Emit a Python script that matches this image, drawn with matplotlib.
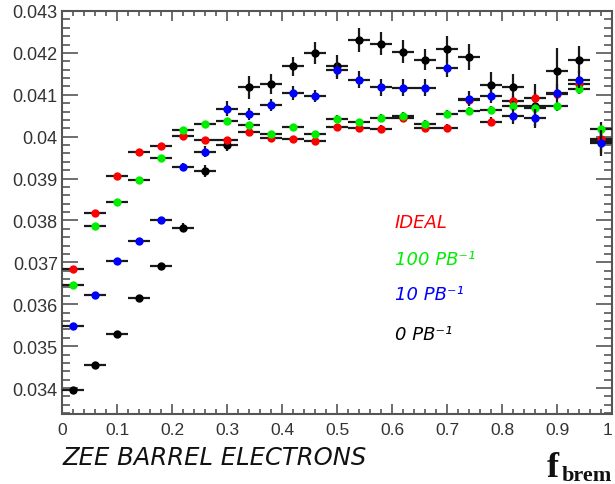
import matplotlib
matplotlib.use("Agg")
import matplotlib.pyplot as plt
from matplotlib.ticker import MultipleLocator, FormatStrFormatter

# ---- data -------------------------------------------------------------
fbrem = [0.02, 0.06, 0.10, 0.14, 0.18, 0.22, 0.26, 0.30, 0.34, 0.38,
         0.42, 0.46, 0.50, 0.54, 0.58, 0.62, 0.66, 0.70, 0.74, 0.78,
         0.82, 0.86, 0.90, 0.94, 0.98]
bin_half_width = 0.02

zero_pb = [0.03396, 0.03454, 0.03529, 0.03616, 0.03691, 0.03783, 0.03918,
           0.03981, 0.04118, 0.04126, 0.04168, 0.04199, 0.04168, 0.04231,
           0.04222, 0.04203, 0.04184, 0.04209, 0.04191, 0.04124, 0.04119,
           0.04073, 0.04157, 0.04184, 0.03989]
zero_pb_err = [0.00005, 0.00005, 0.00005, 0.00006, 0.00007, 0.00010, 0.00014,
               0.00016, 0.00027, 0.00024, 0.00023, 0.00026, 0.00026, 0.00028,
               0.00027, 0.00027, 0.00025, 0.00031, 0.00031, 0.00030, 0.00030,
               0.00053, 0.00055, 0.00032, 0.00028]

ten_pb = [0.03549, 0.03623, 0.03704, 0.03750, 0.03800, 0.03928, 0.03964,
          0.04067, 0.04054, 0.04076, 0.04104, 0.04097, 0.04158, 0.04136,
          0.04118, 0.04117, 0.04117, 0.04163, 0.04091, 0.04097, 0.04049,
          0.04045, 0.04105, 0.04136, 0.03985]
ten_pb_err = [0.00004, 0.00004, 0.00004, 0.00005, 0.00005, 0.00008, 0.00013,
              0.00017, 0.00015, 0.00014, 0.00016, 0.00015, 0.00020, 0.00020,
              0.00020, 0.00020, 0.00020, 0.00020, 0.00018, 0.00016, 0.00018,
              0.00020, 0.00020, 0.00020, 0.00030]

hundred_pb = [0.03647, 0.03786, 0.03845, 0.03897, 0.03950, 0.04017, 0.04031,
              0.04038, 0.04028, 0.04006, 0.04024, 0.04007, 0.04043, 0.04035,
              0.04045, 0.04049, 0.04030, 0.04054, 0.04062, 0.04064, 0.04074,
              0.04068, 0.04074, 0.04114, 0.04019]
hundred_pb_err = [0.00003, 0.00003, 0.00003, 0.00004, 0.00004, 0.00005, 0.00005,
                  0.00006, 0.00006, 0.00006, 0.00007, 0.00007, 0.00008, 0.00008,
                  0.00008, 0.00009, 0.00009, 0.00010, 0.00010, 0.00010, 0.00011,
                  0.00012, 0.00012, 0.00013, 0.00015]

ideal = [0.03683, 0.03819, 0.03906, 0.03964, 0.03978, 0.04002, 0.03993,
         0.03993, 0.04011, 0.03998, 0.03995, 0.03989, 0.04023, 0.04020,
         0.04019, 0.04045, 0.04021, 0.04021, 0.04088, 0.04036, 0.04085,
         0.04092, 0.04103, 0.04126, 0.03995]
ideal_err = [0.00003, 0.00004, 0.00004, 0.00004, 0.00004, 0.00005, 0.00005,
             0.00006, 0.00006, 0.00006, 0.00007, 0.00007, 0.00008, 0.00008,
             0.00008, 0.00009, 0.00009, 0.00010, 0.00010, 0.00010, 0.00011,
             0.00012, 0.00012, 0.00013, 0.00015]

series = [  # (values, errors, colour, legend text)
    (zero_pb, zero_pb_err, "#000000", "0 PB\u207b\u00b9"),
    (ideal, ideal_err, "#ff0000", "IDEAL"),
    (hundred_pb, hundred_pb_err, "#00ee00", "100 PB\u207b\u00b9"),
    (ten_pb, ten_pb_err, "#0000ff", "10 PB\u207b\u00b9"),
]

# ---- figure -----------------------------------------------------------
fig = plt.figure(figsize=(6.15, 4.85), dpi=100)
ax = fig.add_axes([62 / 615, 70 / 485, 550 / 615, 403 / 485])

for z, (vals, errs, col, _) in enumerate(series):
    ax.errorbar(fbrem, vals, xerr=bin_half_width, yerr=errs, fmt="o",
                ms=6, mfc=col, mec=col, mew=0, ecolor="#1a1a1a",
                elinewidth=1.6, capsize=0, zorder=3 + z)

ax.set_xlim(0, 1)
ax.set_ylim(0.03338, 0.0430)

ax.xaxis.set_major_locator(MultipleLocator(0.1))
ax.xaxis.set_minor_locator(MultipleLocator(0.02))
ax.yaxis.set_major_locator(MultipleLocator(0.001))
ax.yaxis.set_minor_locator(MultipleLocator(0.0002))
ax.xaxis.set_major_formatter(FormatStrFormatter("%g"))
ax.yaxis.set_major_formatter(FormatStrFormatter("%g"))

framecol = "#555555"
for sp in ax.spines.values():
    sp.set_color(framecol)
    sp.set_linewidth(1.5)

ax.tick_params(axis="both", which="both", direction="in", top=True,
               right=True, color=framecol, width=1.2,
               labelcolor="#333333")
ax.tick_params(axis="y", which="major", length=11.5, pad=3, labelsize=13)
ax.tick_params(axis="y", which="minor", length=6)
ax.tick_params(axis="x", which="major", length=7, pad=6, labelsize=12.5)
ax.tick_params(axis="x", which="minor", length=3.6)
fig.canvas.draw()
xlabels = ax.get_xticklabels()
for lab in xlabels + ax.get_yticklabels():
    lab.set_fontfamily("Liberation Sans")
# keep the last x label ("1") inside the picture
for lab in xlabels:
    if lab.get_text() == "1":
        lab.set_horizontalalignment("right")

# legend texts
legend_y = {"IDEAL": 0.476, "100 PB\u207b\u00b9": 0.385,
            "10 PB\u207b\u00b9": 0.298, "0 PB\u207b\u00b9": 0.199}
for vals, errs, col, name in series:
    ax.text(0.605, legend_y[name], name, transform=ax.transAxes,
            color=col, fontsize=13, style="italic",
            family="DejaVu Sans", va="center", ha="left")

fig.text(63 / 615, 1 - 465 / 485, "ZEE BARREL ELECTRONS", fontsize=17.5,
         style="italic", family="DejaVu Sans", color="#111111",
         ha="left", va="baseline")

fig.text(547 / 615, 1 - 477 / 485, "f", fontsize=26, fontweight="bold",
         family="Liberation Serif", ha="left", va="baseline", color="#111111")
fig.text(562 / 615, 1 - 481 / 485, "brem", fontsize=16, fontweight="bold",
         family="Liberation Serif", ha="left", va="baseline", color="#111111")

fig.savefig("out.png", dpi=100)
